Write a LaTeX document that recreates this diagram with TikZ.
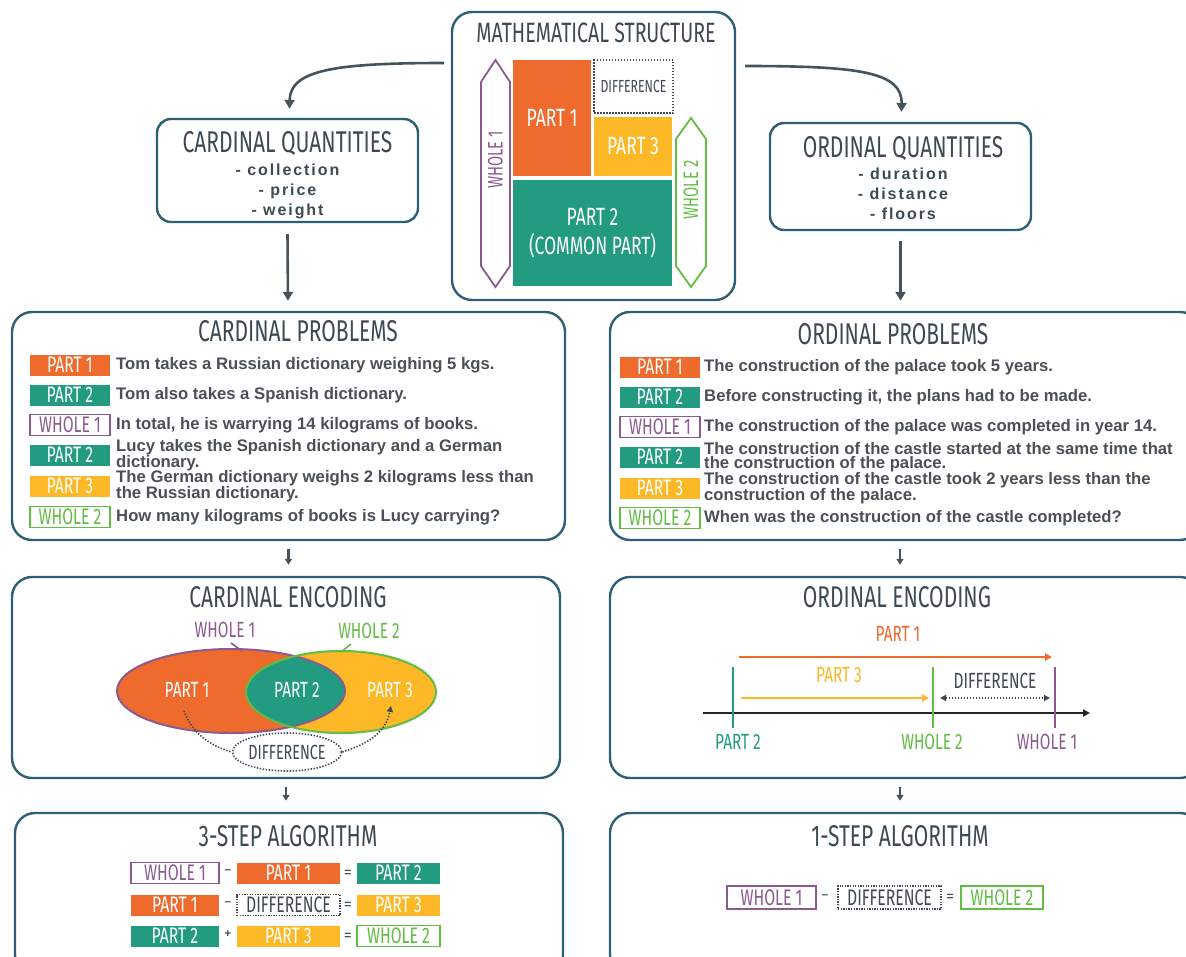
\documentclass[tikz,border=0pt]{standalone}
\usepackage{fontspec}
\setmainfont{Liberation Sans}
\newfontfamily\cond{Fira Sans}[FakeStretch=0.70]
\newfontfamily\qfont{Liberation Sans}[LetterSpace=12]
\usetikzlibrary{arrows.meta,calc,shapes.geometric}
\definecolor{cor}{HTML}{EE6B2D}
\definecolor{cteal}{HTML}{229B80}
\definecolor{cyel}{HTML}{FDB827}
\definecolor{cpur}{HTML}{8B5B8F}
\definecolor{cgrn}{HTML}{62BD43}
\definecolor{boxc}{HTML}{2D5F75}
\definecolor{agray}{HTML}{45545C}
\definecolor{tgray}{HTML}{3D4A52}
\definecolor{bgray}{HTML}{4A5056}
\begin{document}
\begin{tikzpicture}[x=1pt,y=-1pt,
  panel/.style={draw=boxc, line width=2.4pt, rounded corners=20pt, inner sep=0, fill=white},
  qpanel/.style={panel, rounded corners=14pt},
  ttl/.style={font=\cond\fontsize{30}{31}\selectfont, text=tgray, inner sep=0},
  lab/.style={minimum width=80pt, minimum height=21pt, inner sep=0, font=\cond\fontsize{22.5}{22.5}\selectfont, text=white},
  labfill/.style={lab, fill=#1},
  labline/.style={lab, draw=#1, line width=1.3pt, fill=white, text=#1},
  labdot/.style={lab, draw=tgray, line width=1.2pt, dash pattern=on 1.3pt off 1.3pt, fill=white, text=tgray},
  body/.style={anchor=west, inner sep=0, font=\bfseries\fontsize{16.7}{14.5}\selectfont, text=bgray, align=left},
  qlist/.style={inner sep=0, font=\qfont\bfseries\fontsize{16}{20}\selectfont, text=tgray, align=center},
  enc/.style={inner sep=0, font=\cond\fontsize{22}{22}\selectfont},
  op/.style={inner sep=0, font=\bfseries\fontsize{12}{12}\selectfont, text=agray},
  arr/.style={draw=agray, line width=2.6pt, -{Triangle[length=9pt,width=10pt]}},
  sarr/.style={draw=agray, line width=2.2pt, -{Triangle[length=6pt,width=7pt]}},
  dotl/.style={draw=tgray, line width=1.6pt, dash pattern=on 1.4pt off 1.6pt}
]
\useasboundingbox (0,0) rectangle (1186,956);

% ---------- Mathematical structure ----------
\node[panel, minimum width=283pt, minimum height=288pt] (math) at (593.5,156) {};
\node[ttl, font=\cond\fontsize{28}{30}\selectfont] (matht) at (596,33) {MATHEMATICAL STRUCTURE};
\node[fill=cor, minimum width=78pt, minimum height=116pt, inner sep=0, text=white, font=\cond\fontsize{25}{25}\selectfont] (sp1) at (552,118) {PART 1};
\node[draw=tgray, line width=1.6pt, dash pattern=on 1.5pt off 1.5pt, minimum width=79pt, minimum height=53pt, inner sep=0, text=tgray, font=\cond\fontsize{17.5}{17.5}\selectfont] (sdif) at (633.5,86.5) {DIFFERENCE};
\node[fill=cyel, minimum width=78pt, minimum height=59pt, inner sep=0, text=white, font=\cond\fontsize{25}{25}\selectfont] (sp3) at (633,146.5) {PART 3};
\node[fill=cteal, minimum width=159pt, minimum height=106pt, inner sep=0, text=white, align=center, font=\cond\fontsize{25}{29}\selectfont] (sp2) at (592.5,233) {PART 2\\(COMMON PART)};
\draw[cpur, line width=1.8pt] (495.5,60) -- (510,82) -- (510,266) -- (495.5,287) -- (481,266) -- (481,82) -- cycle;
\node[rotate=90, inner sep=0, text=cpur, font=\cond\fontsize{21}{21}\selectfont] (sw1) at (495.5,160) {WHOLE 1};
\draw[cgrn, line width=1.8pt] (691,118) -- (706,139) -- (706,266) -- (691,287) -- (676,266) -- (676,139) -- cycle;
\node[rotate=90, inner sep=0, text=cgrn, font=\cond\fontsize{21}{21}\selectfont] (sw2) at (691,190) {WHOLE 2};

% ---------- Quantities ----------
\node[qpanel, minimum width=261pt, minimum height=103pt] (cq) at (287.5,170.5) {};
\node[ttl] (cqt) at (287.5,144) {CARDINAL QUANTITIES};
\node[qlist] (cql) at (287.5,191) {- collection\\- price\\- weight};
\node[qpanel, minimum width=261pt, minimum height=107pt] (oq) at (900.5,176.5) {};
\node[ttl] (oqt) at (903,149) {ORDINAL QUANTITIES};
\node[qlist] (oql) at (903,194) {- duration\\- distance\\- floors};

\coordinate (cl) at (444,63);
\coordinate (cr) at (745,66);
\draw[arr] (cl) .. controls (335,63) and (290,70) .. ([xshift=2pt,yshift=9pt]cq.north);
\draw[arr] (cr) .. controls (860,66) and (902,72) .. ([xshift=1pt,yshift=10pt]oq.north);

% ---------- Problems ----------
\node[panel, minimum width=553pt, minimum height=228pt] (cp) at (288.5,426) {};
\node[ttl] (cpt) at (298,331) {CARDINAL PROBLEMS};
\node[panel, minimum width=590pt, minimum height=228pt] (op) at (905,426) {};
\node[ttl] (opt) at (893,334) {ORDINAL PROBLEMS};

\draw[arr] ([yshift=-11pt]cq.south) -- ([xshift=0.5pt,yshift=10pt]cq.south |- cp.north);
\draw[arr] ([yshift=-10pt]oq.south) -- ([yshift=10pt]oq.south |- op.north);

\node[labfill=cor] (c1l) at (70,365) {PART 1};
\node[body] (c1t) at (116,365) {Tom takes a Russian dictionary weighing 5 kgs.};
\node[labfill=cteal] (c2l) at (70,395) {PART 2};
\node[body] (c2t) at (116,395) {Tom also takes a Spanish dictionary.};
\node[labline=cpur] (c3l) at (70,425) {WHOLE 1};
\node[body] (c3t) at (116,425) {In total, he is warrying 14 kilograms of books.};
\node[labfill=cteal] (c4l) at (70,455) {PART 2};
\node[body] (c4t) at (116,455) {Lucy takes the Spanish dictionary and a German\\dictionary.};
\node[labfill=cyel] (c5l) at (70,486) {PART 3};
\node[body] (c5t) at (116,486) {The German dictionary weighs 2 kilograms less than\\the Russian dictionary.};
\node[labline=cgrn] (c6l) at (70,517) {WHOLE 2};
\node[body] (c6t) at (116,517) {How many kilograms of books is Lucy carrying?};

\node[labfill=cor] (o1l) at (660,367) {PART 1};
\node[body] (o1t) at (704,367) {The construction of the palace took 5 years.};
\node[labfill=cteal] (o2l) at (660,397) {PART 2};
\node[body] (o2t) at (704,397) {Before constructing it, the plans had to be made.};
\node[labline=cpur] (o3l) at (660,427) {WHOLE 1};
\node[body] (o3t) at (704,427) {The construction of the palace was completed in year 14.};
\node[labfill=cteal] (o4l) at (660,457) {PART 2};
\node[body] (o4t) at (704,457) {The construction of the castle started at the same time that\\the construction of the palace.};
\node[labfill=cyel] (o5l) at (660,488) {PART 3};
\node[body] (o5t) at (704,488) {The construction of the castle took 2 years less than the\\construction of the palace.};
\node[labline=cgrn] (o6l) at (660,518) {WHOLE 2};
\node[body] (o6t) at (704,518) {When was the construction of the castle completed?};

% ---------- Encoding ----------
\node[panel, minimum width=548pt, minimum height=201pt] (ce) at (286,677.5) {};
\node[ttl] (cet) at (288,597) {CARDINAL ENCODING};
\node[panel, minimum width=590pt, minimum height=201pt] (oe) at (905,677.5) {};
\node[ttl] (oet) at (897,597) {ORDINAL ENCODING};
\draw[sarr] ([yshift=-8pt]cp.south) -- ([yshift=11pt]cp.south |- ce.north);
\draw[sarr] ([xshift=-5pt,yshift=-8pt]op.south) -- ([xshift=-5pt,yshift=11pt]op.south |- oe.north);

% Venn
\fill[cor] (231,691) ellipse [x radius=114, y radius=42];
\fill[cyel] (341,692) ellipse [x radius=95, y radius=41];
\begin{scope}
  \clip (231,691) ellipse [x radius=114, y radius=42];
  \fill[cteal] (341,692) ellipse [x radius=95, y radius=41];
\end{scope}
\draw[cpur, line width=2pt] (231,691) ellipse [x radius=114, y radius=42];
\draw[cgrn, line width=2pt] (341,692) ellipse [x radius=95, y radius=41];
\node[enc, text=cpur] (vw1) at (225,630) {WHOLE 1};
\node[enc, text=cgrn] (vw2) at (369,631) {WHOLE 2};
\draw[cpur, line width=1.6pt] ([xshift=6pt,yshift=-13pt]vw1.center) -- (242,651);
\draw[cgrn, line width=1.6pt] ([xshift=-18pt,yshift=-13pt]vw2.center) -- (341,652);
\node[enc, text=white] (vp1) at (187,690) {PART 1};
\node[enc, text=white] (vp2) at (297,690) {PART 2};
\node[enc, text=white] (vp3) at (390,690) {PART 3};
\node[ellipse, draw=tgray, line width=1.6pt, dash pattern=on 1.4pt off 1.6pt, fill=white, inner sep=0pt, minimum width=98pt, minimum height=38pt, text=tgray, font=\cond\fontsize{20.5}{20.5}\selectfont] (vdif) at (287,752) {DIFFERENCE};
\draw[dotl] ([xshift=-3pt,yshift=-13pt]vp1.south) .. controls (195,742) and (225,750) .. (vdif.west);
\draw[dotl, -{Triangle[length=6pt,width=6pt]}] (vdif.east) .. controls (360,746) and (385,737) .. ([xshift=1pt,yshift=-8pt]vp3.south);

% Ordinal line
\coordinate (ax0) at (703,713);
\coordinate (ax1) at (1090,713);
\draw[draw=black!85, line width=1.8pt, -{Triangle[length=7pt,width=7pt]}] (ax0) -- (ax1);
\draw[cteal, line width=2pt] (733,667) -- (733,728);
\draw[cgrn, line width=2pt] (932.5,667) -- (932.5,728);
\draw[cpur, line width=2pt] (1055,667) -- (1055,728);
\node[enc, text=cteal] (ep2) at (738,742) {PART 2};
\node[enc, text=cgrn] (ew2) at (932,742) {WHOLE 2};
\node[enc, text=cpur] (ew1) at (1047,742) {WHOLE 1};
\node[enc, text=cor] (ep1) at (898,634) {PART 1};
\node[enc, text=cyel] (ep3) at (839,675) {PART 3};
\node[enc, text=tgray] (edif) at (995,681) {DIFFERENCE};
\draw[cor, line width=2pt, -{Triangle[length=7pt,width=7pt]}] (739,657) -- (1052,657);
\draw[cyel, line width=2pt, -{Triangle[length=7pt,width=7pt]}] (741,698) -- (929,698);
\draw[dotl, {Triangle[length=6pt,width=6pt]}-{Triangle[length=6pt,width=6pt]}] (940,698) -- (1050,698);

% ---------- Algorithms ----------
\node[panel, minimum width=548pt, minimum height=162pt] (ca) at (289,894) {};
\node[ttl] (cat) at (288,836) {3-STEP ALGORITHM};
\node[panel, minimum width=590pt, minimum height=162pt] (oa) at (905,894) {};
\node[ttl] (oat) at (900,836) {1-STEP ALGORITHM};
\draw[sarr] ([yshift=-8pt]ce.south) -- ([yshift=11pt]ce.south |- ca.north);
\draw[sarr] ([xshift=-5pt,yshift=-8pt]oe.south) -- ([xshift=-5pt,yshift=11pt]oe.south |- oa.north);

\node[labline=cpur, minimum width=88pt] (a11) at (175,873) {WHOLE 1};
\node[op] (a1m) at (228,872) {--};
\node[labfill=cor, minimum width=103pt] (a12) at (288.5,873) {PART 1};
\node[op] (a1e) at (348,873) {=};
\node[labfill=cteal, minimum width=83pt] (a13) at (398.5,873) {PART 2};

\node[labfill=cor, minimum width=88pt] (a21) at (175,905) {PART 1};
\node[op] (a2m) at (228,904) {--};
\node[labdot, minimum width=103pt] (a22) at (288.5,905) {DIFFERENCE};
\node[op] (a2e) at (348,905) {=};
\node[labfill=cyel, minimum width=83pt] (a23) at (398.5,905) {PART 3};

\node[labfill=cteal, minimum width=88pt] (a31) at (175,936) {PART 2};
\node[op] (a3m) at (228,934) {+};
\node[labfill=cyel, minimum width=103pt] (a32) at (288.5,936) {PART 3};
\node[op] (a3e) at (348,936) {=};
\node[labline=cgrn, minimum width=83pt] (a33) at (398.5,936) {WHOLE 2};

\node[labline=cpur, minimum width=89pt, minimum height=23pt] (b1) at (771.5,897.5) {WHOLE 1};
\node[op] (bm) at (825,897) {--};
\node[labdot, minimum width=103pt, minimum height=23pt] (b2) at (889.5,897.5) {DIFFERENCE};
\node[op] (be) at (950,897.5) {=};
\node[labline=cgrn, minimum width=82pt, minimum height=23pt] (b3) at (1002,897.5) {WHOLE 2};
\end{tikzpicture}
\end{document}
